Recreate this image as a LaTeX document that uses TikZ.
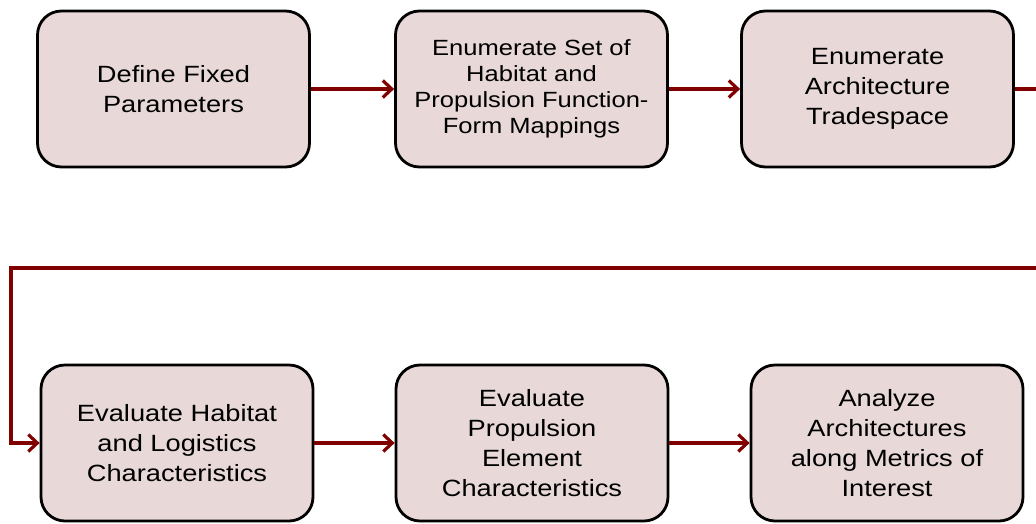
\documentclass[tikz,border=0pt]{standalone}
\usepackage{fontspec}
\setmainfont[FakeStretch=1.16]{Liberation Sans}
\usetikzlibrary{arrows.meta}
\definecolor{boxfill}{RGB}{232,216,216}
\definecolor{linkred}{RGB}{128,0,0}
\begin{document}
\begin{tikzpicture}[x=1pt,y=-1pt,
  stepbox/.style={draw=black, line width=2.8pt, fill=boxfill, rounded corners=24pt,
    minimum width=272pt, minimum height=156pt, align=center, inner sep=0pt,
    font=\fontsize{23.5}{30}\selectfont},
  link/.style={draw=linkred, line width=3.2pt, -{Straight Barb[length=9pt,width=17pt,line width=3.2pt]}}]
\useasboundingbox (0,0) rectangle (1036,523);
\node[stepbox] (b1) at (173.5,89) {Define Fixed\\Parameters};
\node[stepbox, font=\fontsize{22}{26}\selectfont] (b2) at (531.5,89) {Enumerate Set of\\Habitat and\\Propulsion Function-\\Form Mappings};
\node[stepbox] (b3) at (877.5,89) {Enumerate\\Architecture\\Tradespace};
\node[stepbox] (b4) at (177,443) {Evaluate Habitat\\and Logistics\\Characteristics};
\node[stepbox] (b5) at (532,443) {Evaluate\\Propulsion\\Element\\Characteristics};
\node[stepbox] (b6) at (887,443) {Analyze\\Architectures\\along Metrics of\\Interest};
\coordinate (r1) at (1050,89);
\coordinate (r2) at (1050,268);
\coordinate (l1) at (11,268);
\draw[link] (b1.east) -- (b2.west);
\draw[link] (b2.east) -- (b3.west);
\draw[link] (b3.east) -- (r1) -- (r2) -- (l1) |- (b4.west);
\draw[link] (b4.east) -- (b5.west);
\draw[link] (b5.east) -- (b6.west);
\end{tikzpicture}
\end{document}
